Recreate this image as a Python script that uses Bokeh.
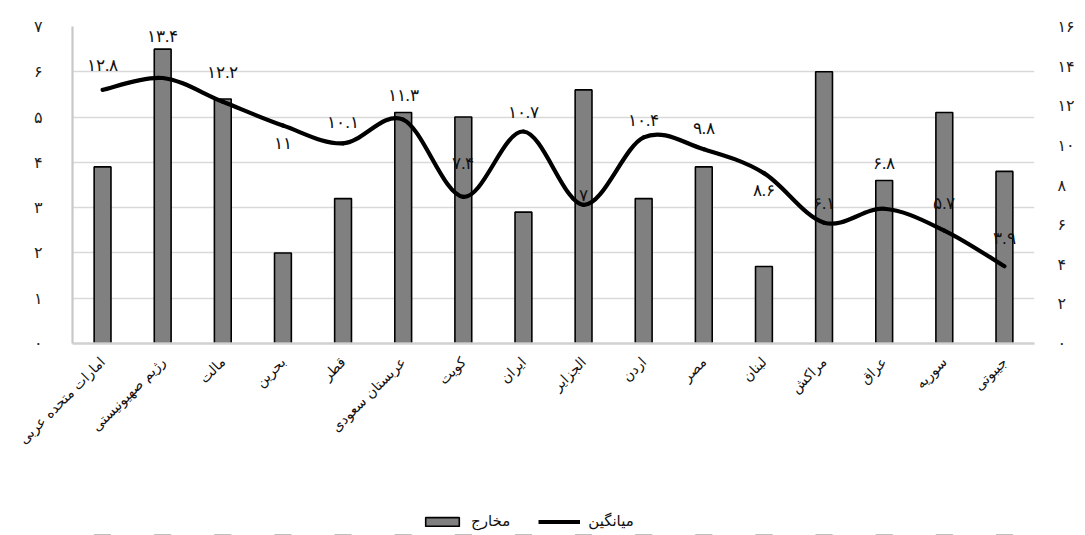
import math
from bokeh.plotting import figure
from bokeh.layouts import column
from bokeh.models import (Range1d, LinearAxis, FactorRange, FixedTicker, ColumnDataSource,
                          LabelSet, Legend, LegendItem)
from bokeh.embed import file_html
from bokeh.resources import INLINE

# ---- data ----
countries = ["امارات متحده عربی", "رژیم صهیونیستی", "مالت", "بحرین", "قطر", "عربستان سعودی",
             "کویت", "ایران", "الجزایر", "اردن", "مصر", "لبنان", "مراکش", "عراق", "سوریه", "جیبوتی"]
spending = [3.9, 6.5, 5.4, 2.0, 3.2, 5.1, 5.0, 2.9, 5.6, 3.2, 3.9, 1.7, 6.0, 3.6, 5.1, 3.8]
average = [12.8, 13.4, 12.2, 11, 10.1, 11.3, 7.4, 10.7, 7, 10.4, 9.8, 8.6, 6.1, 6.8, 5.7, 3.9]
left_ticks = [0, 1, 2, 3, 4, 5, 6, 7]
right_ticks = [0, 2, 4, 6, 8, 10, 12, 14, 16]
bar_name = "مخارج"
line_name = "میانگین"

# ---- styling ----
label_lift = [24, 42, 29, -18, 21, 24, 33, 19, 9, 17, 21, -17, 19, 45, 27, 28]
FONT = "DejaVu Sans"
FA = str.maketrans("0123456789", "۰۱۲۳۴۵۶۷۸۹")
BAR_STYLE = dict(fill_color="#808080", line_color="black", line_width=1.6)
LINE_STYLE = dict(line_color="black", line_width=4.2)


def fa(v):
    return format(v, "g").translate(FA)


xr = FactorRange(*countries)
p = figure(width=1077, height=500, x_range=xr, y_range=Range1d(0, 7),
           output_backend="svg", toolbar_location=None,
           min_border_left=72, min_border_right=40, min_border_top=26, min_border_bottom=157)
p.extra_y_ranges = {"right": Range1d(0, 16)}
p.outline_line_color = None
p.background_fill_color = "white"
p.border_fill_color = "white"

# grid
p.xgrid.grid_line_color = None
p.ygrid.grid_line_color = "#d9d9d9"
p.ygrid.grid_line_width = 1.6

# left axis
ya = p.yaxis[0]
ya.ticker = FixedTicker(ticks=left_ticks)
ya.major_label_overrides = {t: fa(t) for t in left_ticks}
ya.axis_line_color = "#c8c8c8"
ya.axis_line_width = 2.2
ya.major_tick_line_color = None
ya.minor_tick_line_color = None
ya.major_label_standoff = 24
ya.major_label_text_font = FONT
ya.major_label_text_font_size = "16px"
ya.major_label_text_color = "#222222"

# right axis
ra = LinearAxis(y_range_name="right", ticker=FixedTicker(ticks=right_ticks))
ra.major_label_overrides = {t: fa(t) for t in right_ticks}
ra.axis_line_color = None
ra.major_tick_line_color = None
ra.minor_tick_line_color = None
ra.major_label_standoff = 17
ra.major_label_text_font = FONT
ra.major_label_text_font_size = "16px"
ra.major_label_text_color = "#222222"
p.add_layout(ra, "right")

# x axis
xa = p.xaxis[0]
xa.axis_line_color = "#d0d0d0"
xa.axis_line_width = 2.6
xa.major_tick_line_color = None
xa.minor_tick_line_color = None
xa.major_label_orientation = math.pi / 4
xa.major_label_standoff = 10
xa.major_label_text_font = FONT
xa.major_label_text_font_size = "14px"
xa.major_label_text_color = "#111111"

src = ColumnDataSource(dict(name=countries, spending=spending, average=average,
                            lbl=[fa(v) for v in average], lift=label_lift))

p.vbar(x="name", top="spending", width=0.28, source=src, **BAR_STYLE)

# smoothed line through the average values (Catmull-Rom -> cubic Bezier)
xs = [i + 0.5 for i in range(len(average))]
n = len(average)
bz = dict(x0=[], y0=[], x1=[], y1=[], cx0=[], cy0=[], cx1=[], cy1=[])
for i in range(n - 1):
    ip = max(i - 1, 0)
    inn = min(i + 2, n - 1)
    bz["x0"].append(xs[i]); bz["y0"].append(average[i])
    bz["x1"].append(xs[i + 1]); bz["y1"].append(average[i + 1])
    bz["cx0"].append(xs[i] + (xs[i + 1] - xs[ip]) / 6)
    bz["cy0"].append(average[i] + (average[i + 1] - average[ip]) / 6)
    bz["cx1"].append(xs[i + 1] - (xs[inn] - xs[i]) / 6)
    bz["cy1"].append(average[i + 1] - (average[inn] - average[i]) / 6)
p.bezier(x0="x0", y0="y0", x1="x1", y1="y1", cx0="cx0", cy0="cy0", cx1="cx1", cy1="cy1",
         source=ColumnDataSource(bz), line_cap="round", y_range_name="right", **LINE_STYLE)

labels = LabelSet(x="name", y="average", text="lbl", y_offset="lift", source=src,
                  y_range_name="right", text_align="center", text_baseline="middle",
                  text_font=FONT, text_font_size="17px", text_color="#111111")
p.add_layout(labels)

# ---- legend strip below the chart (its glyphs use the same data, out of view) ----
lg = figure(width=1077, height=35, x_range=xr, y_range=Range1d(100, 101),
            x_axis_type=None, y_axis_type=None, output_backend="svg", toolbar_location=None,
            min_border=0, min_border_left=72, min_border_right=40, min_border_top=0,
            min_border_bottom=0)
lg.outline_line_color = None
lg.xgrid.grid_line_color = None
lg.ygrid.grid_line_color = None
lg_bar = lg.vbar(x="name", top="spending", width=0.28, source=src, **BAR_STYLE)
lg_line = lg.line(x=xs, y=average, **LINE_STYLE)
legend = Legend(items=[LegendItem(label=bar_name, renderers=[lg_bar]),
                       LegendItem(label=line_name, renderers=[lg_line])],
                orientation="horizontal", location=(349, 5),
                glyph_width=42, glyph_height=11, label_standoff=8, spacing=28,
                padding=2, margin=0, border_line_color=None, background_fill_alpha=0,
                label_text_font=FONT, label_text_font_size="15px", label_text_color="#111111")
lg.add_layout(legend, "center")

layout = column(p, lg, spacing=0)
open("out.html", "w").write(file_html(layout, INLINE))
